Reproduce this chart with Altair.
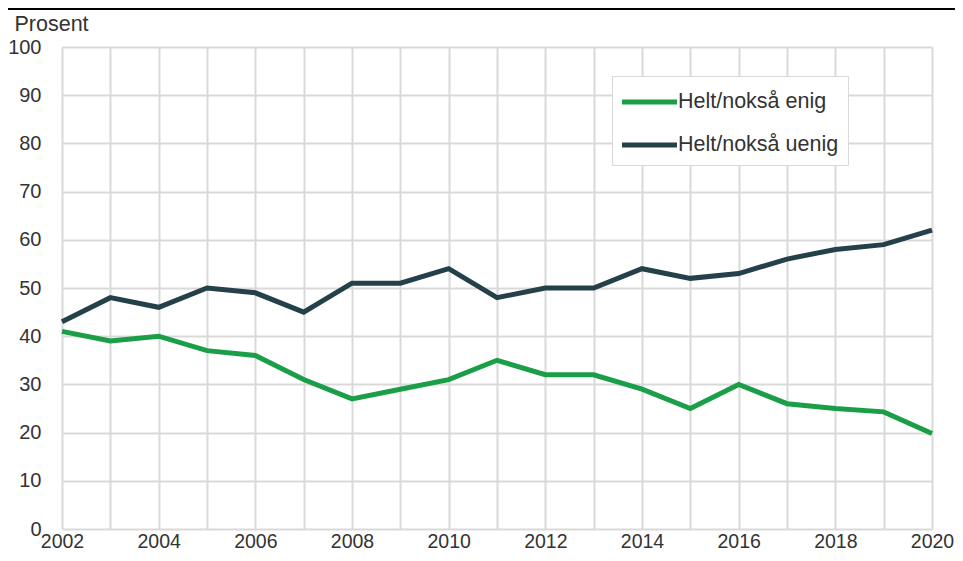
import altair as alt
import pandas as pd

years = list(range(2002, 2021))
enig = [41, 39, 40, 37, 36, 31, 27, 29, 31, 35, 32, 32, 29, 25, 30, 26, 25, 24.3, 19.8]
uenig = [43, 48, 46, 50, 49, 45, 51, 51, 54, 48, 50, 50, 54, 52, 53, 56, 58, 59, 62]
series = ["Helt/nokså enig", "Helt/nokså uenig"]
colors = ["#1b9e48", "#24414a"]
y_ticks = list(range(0, 101, 10))

df = pd.DataFrame({
    "year": years + years,
    "value": enig + uenig,
    "series": [series[0]] * len(years) + [series[1]] * len(years),
})

font = "Liberation Sans"
grid_color = "#d9d9d9"
text_color = "#333333"
W, H = 870, 482
PAD_L, PAD_T = 54, 39
PAD_R = 947 - PAD_L - W
PAD_B = 545 - PAD_T - H

lines = alt.Chart(df).mark_line(strokeWidth=5).encode(
    x=alt.X(
        "year:Q",
        scale=alt.Scale(domain=[2002, 2020], nice=False, zero=False),
        axis=alt.Axis(
            values=years,
            labelExpr="datum.value % 2 == 0 ? '' + datum.value : ''",
            title=None,
            grid=True,
            gridColor=grid_color,
            gridWidth=2,
            domain=False,
            ticks=False,
            labelPadding=3,
            labelFontSize=19.5,
            labelFont=font,
            labelColor=text_color,
            labelFlush=False,
            labelOverlap=False,
        ),
    ),
    y=alt.Y(
        "value:Q",
        scale=alt.Scale(domain=[0, 100], nice=False),
        axis=alt.Axis(
            values=y_ticks,
            title="Prosent",
            titleAngle=0,
            titleX=-48,
            titleY=-17,
            titleAlign="left",
            titleBaseline="alphabetic",
            titleFontWeight="normal",
            titleFontSize=21.5,
            titleFont=font,
            titleColor=text_color,
            grid=True,
            gridColor=grid_color,
            gridWidth=2,
            domain=False,
            ticks=False,
            labelPadding=21,
            labelFontSize=20,
            labelFont=font,
            labelColor=text_color,
            labelFlush=False,
        ),
    ),
    color=alt.Color(
        "series:N",
        scale=alt.Scale(domain=series, range=colors),
        legend=alt.Legend(
            orient="none",
            legendX=550,
            legendY=29,
            title=None,
            symbolType="M-2,0H2",
            symbolSize=756,
            symbolStrokeWidth=5,
            symbolOffset=11.5,
            labelOffset=12,
            labelFontSize=21.5,
            labelFont=font,
            labelColor=text_color,
            labelLimit=400,
            padding=9.5,
            rowPadding=16,
            strokeColor=grid_color,
            fillColor="white",
        ),
    ),
)

top_rule = alt.Chart(pd.DataFrame({"a": [0]})).mark_rule(color="black", strokeWidth=2).encode(
    x=alt.value(-PAD_L), x2=alt.value(W + PAD_R), y=alt.value(-PAD_T + 1)
)

chart = alt.layer(lines, top_rule).properties(
    width=W,
    height=H,
    autosize=alt.AutoSizeParams(type="none"),
    padding={"left": PAD_L, "top": PAD_T, "right": PAD_R, "bottom": PAD_B},
).configure_view(stroke=None)

chart.save("out.html", embed_options={"renderer": "svg", "actions": False})
